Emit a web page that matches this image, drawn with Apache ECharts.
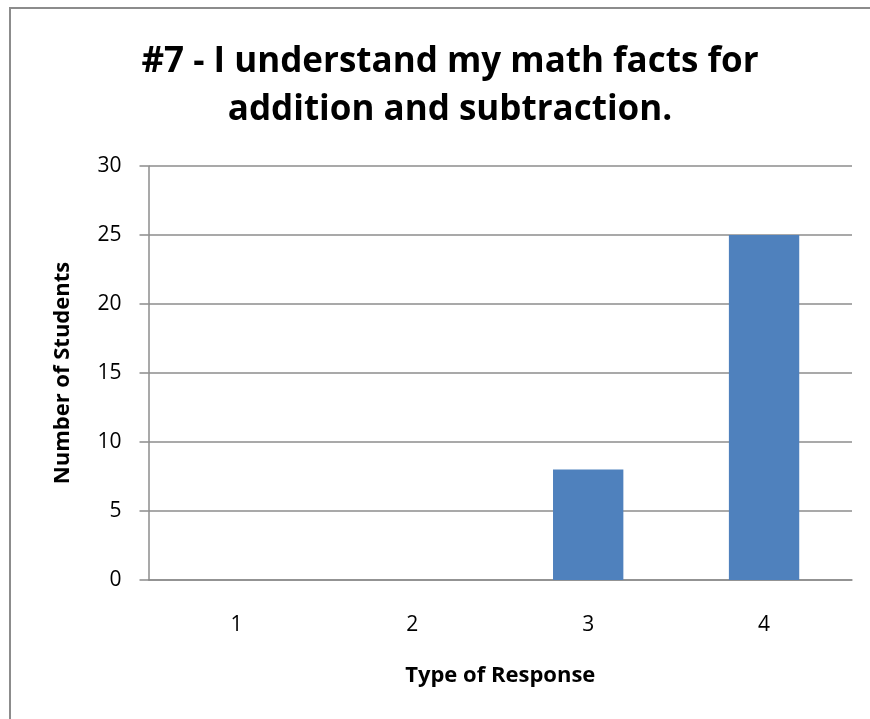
<!DOCTYPE html>
<html>
<head>
<meta charset="utf-8">
<script src="https://cdn.jsdelivr.net/npm/echarts@6/dist/echarts.min.js"></script>
<style>
  html, body { margin: 0; padding: 0; background: #fff; }
  #chart { width: 870px; height: 719px; }
</style>
</head>
<body>
<div id="chart"></div>
<script>
// Survey responses for question #7
const categories = ['1', '2', '3', '4'];
const studentCounts = [0, 0, 8, 25];
const yTicks = [0, 5, 10, 15, 20, 25, 30];

const chart = echarts.init(document.getElementById('chart'));
const font = '"Open Sans", "Noto Sans", sans-serif';

chart.setOption({
  animation: false,
  backgroundColor: '#fff',
  graphic: [{
    type: 'rect',
    shape: { x: 10, y: 8, width: 900, height: 800 },
    style: { fill: 'none', stroke: '#8c8c8c', lineWidth: 2 },
    silent: true
  }],
  title: {
    text: '#7 - I understand my math facts for\naddition and subtraction.',
    left: 445,
    top: 33,
    textAlign: 'center',
    textStyle: {
      fontFamily: font,
      fontSize: 35,
      fontWeight: 'bold',
      color: '#000',
      lineHeight: 48
    }
  },
  grid: { left: 148.5, right: 18, top: 166, bottom: 139 },
  xAxis: {
    type: 'category',
    data: categories,
    name: 'Type of Response',
    nameLocation: 'middle',
    nameGap: 85,
    nameTextStyle: { fontFamily: font, fontSize: 22, fontWeight: 'bold', color: '#000' },
    axisLine: { show: true, lineStyle: { color: '#8c8c8c', width: 1.5 } },
    axisTick: { show: false },
    axisLabel: { fontFamily: font, fontSize: 21, color: '#000', margin: 35 }
  },
  yAxis: {
    type: 'value',
    min: 0,
    max: 30,
    interval: 5,
    name: 'Number of Students',
    nameLocation: 'middle',
    nameGap: 75,
    nameTextStyle: { fontFamily: font, fontSize: 22, fontWeight: 'bold', color: '#000' },
    axisLine: { show: true, lineStyle: { color: '#8c8c8c', width: 1.5 } },
    axisTick: { show: true, inside: false, length: 9, lineStyle: { color: '#8c8c8c', width: 1.5 } },
    axisLabel: {
      fontFamily: font, fontSize: 21, color: '#000', margin: 27,
      formatter: v => yTicks.includes(v) ? String(v) : ''
    },
    splitLine: { show: true, lineStyle: { color: '#8c8c8c', width: 1.5 } }
  },
  series: [{
    type: 'bar',
    data: studentCounts,
    barWidth: '40%',
    itemStyle: { color: '#4f81bd' }
  }]
});
</script>
</body>
</html>
